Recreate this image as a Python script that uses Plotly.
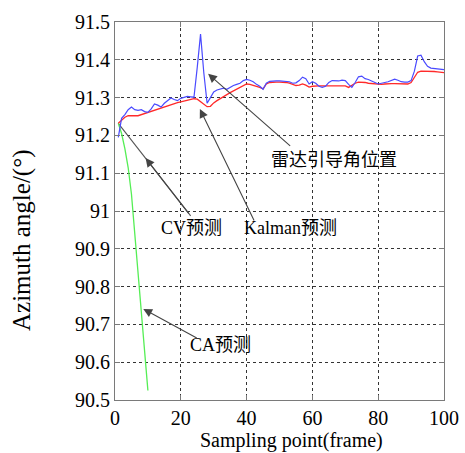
import plotly.graph_objects as go

# Sampling frames
frames = list(range(1, 101))

# Radar-guided azimuth (measured)
radar = [91.195, 91.245, 91.255, 91.268, 91.275, 91.268, 91.266, 91.268, 91.263, 91.261,
         91.270, 91.283, 91.280, 91.275, 91.285, 91.293, 91.299, 91.295, 91.292, 91.298,
         91.301, 91.303, 91.302, 91.301, 91.380, 91.468, 91.365, 91.285, 91.300, 91.315,
         91.320, 91.322, 91.325, 91.322, 91.328, 91.332, 91.335, 91.338, 91.345, 91.348,
         91.346, 91.342, 91.335, 91.330, 91.322, 91.338, 91.343, 91.344, 91.344, 91.344,
         91.344, 91.343, 91.342, 91.338, 91.339, 91.345, 91.354, 91.350, 91.336, 91.342,
         91.338, 91.330, 91.327, 91.330, 91.340, 91.345, 91.345, 91.344, 91.346, 91.345,
         91.335, 91.327, 91.340, 91.355, 91.357, 91.350, 91.348, 91.345, 91.340, 91.336,
         91.337, 91.340, 91.342, 91.345, 91.349, 91.346, 91.342, 91.341, 91.341, 91.345,
         91.370, 91.410, 91.412, 91.395, 91.383, 91.378, 91.377, 91.376, 91.375, 91.374]

# Kalman filter prediction
kalman = [91.232, 91.240, 91.248, 91.252, 91.253, 91.252, 91.252, 91.255, 91.258, 91.260,
          91.263, 91.266, 91.269, 91.272, 91.276, 91.280, 91.283, 91.285, 91.287, 91.289,
          91.291, 91.293, 91.295, 91.297, 91.296, 91.290, 91.282, 91.276, 91.277, 91.286,
          91.292, 91.298, 91.304, 91.308, 91.313, 91.318, 91.323, 91.328, 91.333, 91.336,
          91.335, 91.333, 91.330, 91.327, 91.323, 91.336, 91.340, 91.341, 91.341, 91.341,
          91.341, 91.340, 91.338, 91.334, 91.332, 91.333, 91.336, 91.333, 91.328, 91.330,
          91.331, 91.331, 91.331, 91.331, 91.332, 91.332, 91.332, 91.332, 91.332, 91.331,
          91.327, 91.333, 91.338, 91.341, 91.341, 91.340, 91.338, 91.337, 91.336, 91.335,
          91.335, 91.336, 91.337, 91.337, 91.337, 91.337, 91.337, 91.336, 91.336, 91.340,
          91.355, 91.367, 91.370, 91.370, 91.369, 91.369, 91.369, 91.368, 91.367, 91.366]

# Constant-acceleration prediction
ca_frames = [1, 2, 3, 4, 5, 6, 7, 8, 9, 10]
ca_pred = [91.232, 91.205, 91.165, 91.115, 91.045, 90.945, 90.845, 90.745, 90.635, 90.525]

# Constant-velocity prediction
cv_frames = [1, 23]
cv_pred = [91.232, 90.987]

y_ticks = [90.5, 90.6, 90.7, 90.8, 90.9, 91.0, 91.1, 91.2, 91.3, 91.4, 91.5]
y_labels = ["90.5", "90.6", "90.7", "90.8", "90.9", "91", "91.1", "91.2", "91.3", "91.4", "91.5"]
x_ticks = [0, 20, 40, 60, 80, 100]

serif = "Times New Roman, Liberation Serif, Noto Sans CJK SC, serif"

fig = go.Figure()
fig.add_trace(go.Scatter(x=cv_frames, y=cv_pred, mode="lines",
                         line=dict(color="#555555", width=1.1), name="CV预测"))
fig.add_trace(go.Scatter(x=ca_frames, y=ca_pred, mode="lines",
                         line=dict(color="#55ee55", width=1.3), name="CA预测"))
fig.add_trace(go.Scatter(x=frames, y=kalman, mode="lines",
                         line=dict(color="#ff2a2a", width=1.3), name="Kalman预测"))
fig.add_trace(go.Scatter(x=frames, y=radar, mode="lines",
                         line=dict(color="#4a4aff", width=1.2), name="雷达引导角位置"))

# label text: (text, x, y)
labels = [("雷达引导角位置", 66.5, 91.135),
          ("Kalman预测", 53.4, 90.955),
          ("CV预测", 23.4, 90.955),
          ("CA预测", 32.2, 90.645)]
for txt, lx, ly in labels:
    fig.add_annotation(x=lx, y=ly, xref="x", yref="y", text=txt, showarrow=False,
                       font=dict(family=serif, size=18, color="black"))

# arrows: (head x, head y, tail x, tail y)
arrows = [(28.3, 91.363, 53.7, 91.169),
          (25.8, 91.270, 42.5, 90.971),
          (9.3, 91.140, 22.8, 90.989),
          (8.6, 90.741, 25.3, 90.662)]
for hx, hy, tx, ty in arrows:
    fig.add_annotation(x=hx, y=hy, ax=tx, ay=ty, xref="x", yref="y", axref="x", ayref="y",
                       text="", showarrow=True, arrowhead=2, arrowsize=1.6,
                       arrowwidth=1.1, arrowcolor="#444444")

# axis titles
fig.add_annotation(x=-0.283, y=0.423, xref="paper", yref="paper", text="Azimuth angle/(°)",
                   textangle=-90, showarrow=False, xanchor="center", yanchor="middle",
                   font=dict(family=serif, size=25, color="black"))
fig.add_annotation(x=0.535, y=-0.106, xref="paper", yref="paper", text="Sampling point(frame)",
                   showarrow=False, xanchor="center", yanchor="middle", borderpad=0,
                   font=dict(family=serif, size=20, color="black"))

axis_common = dict(showline=True, linecolor="#7a7a7a", linewidth=1, mirror="ticks",
                   ticks="inside", ticklen=5, tickcolor="#7a7a7a", automargin=False,
                   showgrid=True, gridcolor="#333333", griddash="dot", gridwidth=1,
                   zeroline=False, tickfont=dict(family=serif, size=20, color="black"))

fig.update_layout(
    width=465, height=453,
    margin=dict(l=115, r=21, t=22, b=53),
    paper_bgcolor="white", plot_bgcolor="white",
    showlegend=False,
    xaxis=dict(range=[0, 100], tickvals=x_ticks, **axis_common),
    yaxis=dict(range=[90.5, 91.5], tickvals=y_ticks, ticktext=y_labels, **axis_common),
)

fig.write_html("out.html")
